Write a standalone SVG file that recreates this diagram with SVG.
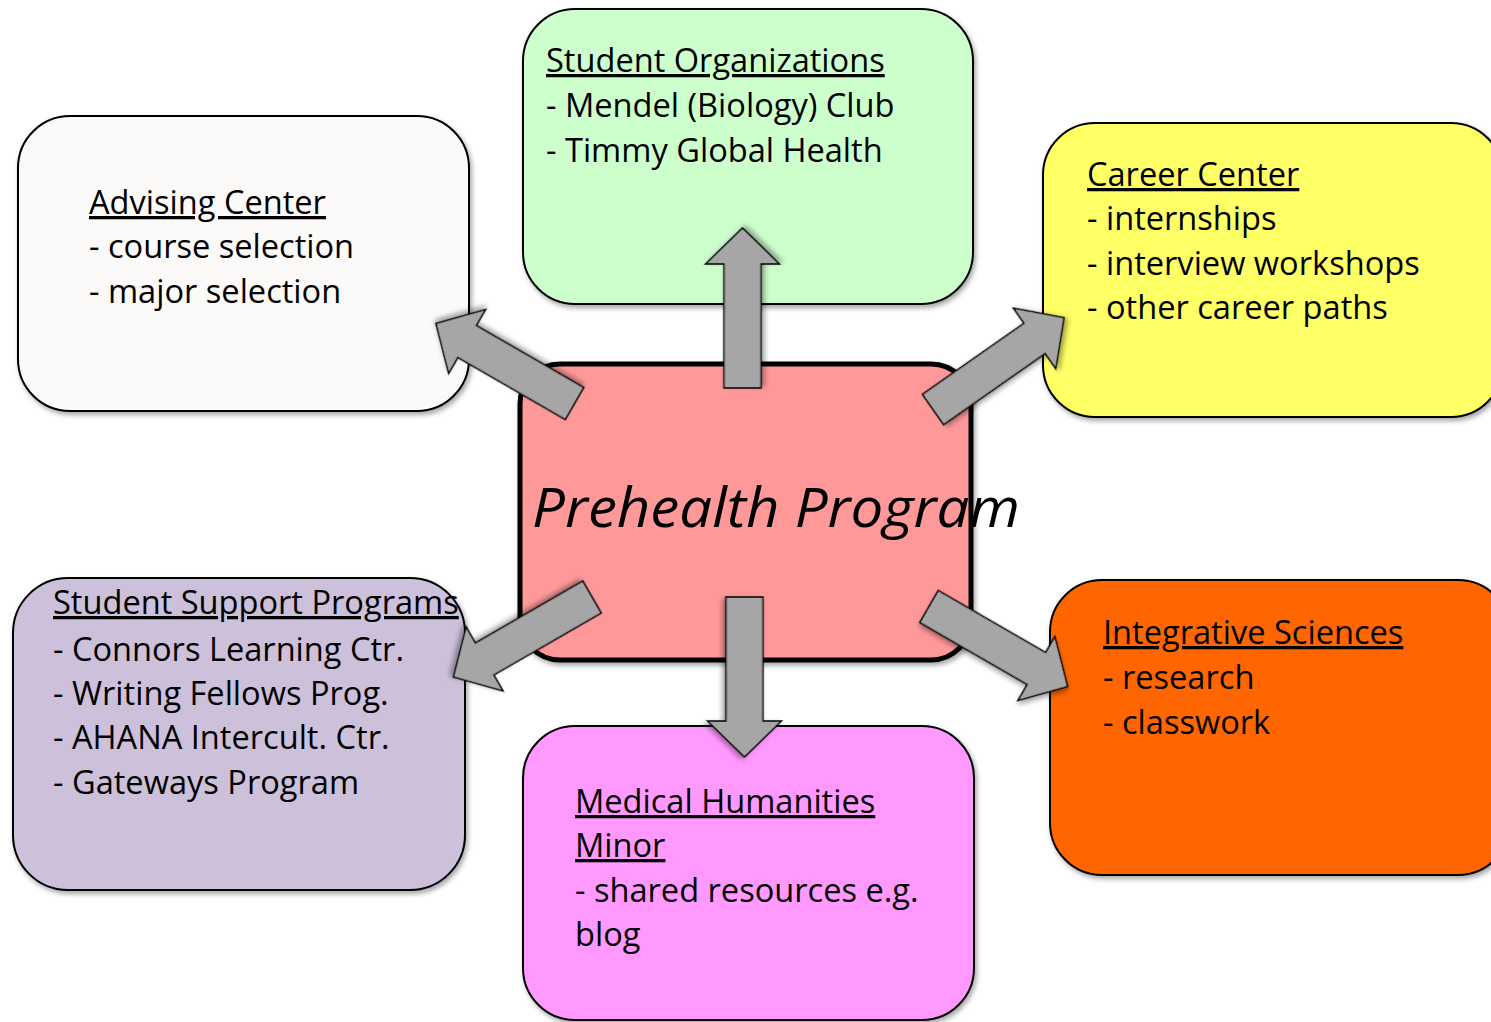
<svg xmlns="http://www.w3.org/2000/svg" width="1491" height="1022" viewBox="0 0 1491 1022">
<style>
.box{stroke:#000;stroke-width:2;filter:url(#sh)}
.t{font-family:"Open Sans","Noto Sans",sans-serif;font-size:32.6px;fill:#000}
.u{text-decoration:underline}
.arr{fill:#A6A6A6;stroke:#000;stroke-width:1.5;stroke-linejoin:miter;filter:url(#sh)}
</style>
<defs>
<filter id="sh" x="-10%" y="-10%" width="130%" height="130%">
<feDropShadow dx="2" dy="3" stdDeviation="2.5" flood-color="#000" flood-opacity="0.35"/>
</filter>
<path id="arrow" d="M0,-18.5 L124,-18.5 L124,-37 L160,0 L124,37 L124,18.5 L0,18.5 Z"/>
</defs>
<rect width="1491" height="1022" fill="#fff"/>

<g id="advising">
<rect class="box" x="18" y="116" width="451" height="295" rx="52" fill="#FBFAF8"/>
<text class="t u" x="89" y="214">Advising Center</text>
<text class="t" x="89" y="258">- course selection</text>
<text class="t" x="89" y="303">- major selection</text>
</g>

<g id="student-organizations">
<rect class="box" x="523" y="9" width="450" height="295" rx="52" fill="#CCFFCC"/>
<text class="t u" x="546" y="72">Student Organizations</text>
<text class="t" x="546" y="117">- Mendel (Biology) Club</text>
<text class="t" x="546" y="162">- Timmy Global Health</text>
</g>

<g id="career-center">
<rect class="box" x="1043" y="123" width="460" height="294" rx="52" fill="#FFFF66"/>
<text class="t u" x="1087" y="186">Career Center</text>
<text class="t" x="1087" y="230">- internships</text>
<text class="t" x="1087" y="275">- interview workshops</text>
<text class="t" x="1087" y="319">- other career paths</text>
</g>

<g id="student-support">
<rect class="box" x="13" y="578" width="452" height="312" rx="55" fill="#CCC0DA"/>
<text class="t u" x="53" y="614">Student Support Programs</text>
<text class="t" x="53" y="661">- Connors Learning Ctr.</text>
<text class="t" x="53" y="705">- Writing Fellows Prog.</text>
<text class="t" x="53" y="749">- AHANA Intercult. Ctr.</text>
<text class="t" x="53" y="794">- Gateways Program</text>
</g>

<g id="medical-humanities">
<rect class="box" x="523" y="726" width="451" height="294" rx="52" fill="#FF99FF"/>
<text class="t u" x="575" y="813">Medical Humanities</text>
<text class="t u" x="575" y="857">Minor</text>
<text class="t" x="575" y="902">- shared resources e.g.</text>
<text class="t" x="575" y="946">blog</text>
</g>

<g id="integrative-sciences">
<rect class="box" x="1050" y="580" width="460" height="295" rx="52" fill="#FF6600"/>
<text class="t u" x="1103" y="644">Integrative Sciences</text>
<text class="t" x="1103" y="689">- research</text>
<text class="t" x="1103" y="734">- classwork</text>
</g>

<g id="prehealth-program">
<rect x="520" y="364" width="451" height="296" rx="40" fill="#FF9999" stroke="#000" stroke-width="5" filter="url(#sh)"/>
<text x="532" y="527" font-family="'Open Sans','Noto Sans',sans-serif" font-size="55" font-style="italic" textLength="488" lengthAdjust="spacingAndGlyphs">Prehealth Program</text>
</g>

<g id="connectors">
<use href="#arrow" class="arr" transform="translate(742.5,388) rotate(-90)"/>
<use href="#arrow" class="arr" transform="translate(744.5,597) rotate(90)"/>
<use href="#arrow" class="arr" transform="translate(574.5,403.5) rotate(210)"/>
<use href="#arrow" class="arr" transform="translate(933,409.5) rotate(-35)"/>
<use href="#arrow" class="arr" transform="translate(592,597) rotate(150)"/>
<use href="#arrow" class="arr" transform="translate(929,606.5) rotate(30)"/>
</g>
</svg>
